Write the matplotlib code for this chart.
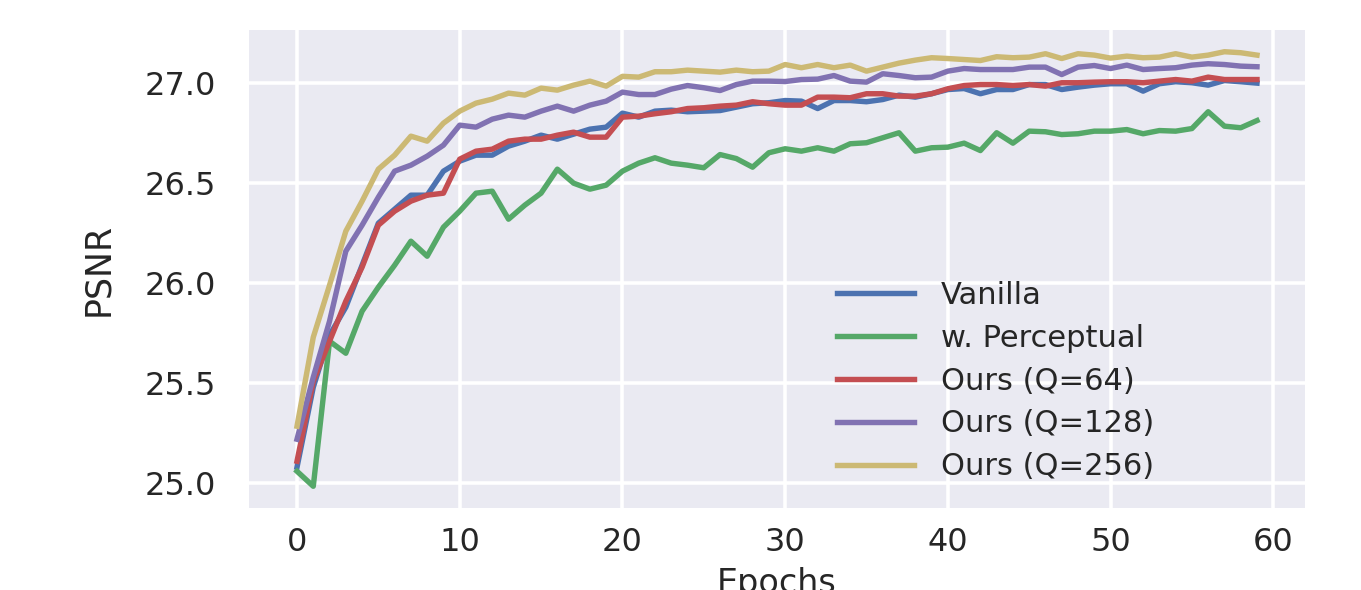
import matplotlib
matplotlib.use("Agg")
import matplotlib.pyplot as plt
import numpy as np

epochs = list(range(60))

vanilla = [25.08, 25.48, 25.74, 25.88, 26.09, 26.30, 26.37, 26.44, 26.44, 26.56,
           26.61, 26.64, 26.64, 26.685, 26.71, 26.74, 26.72, 26.745, 26.77, 26.78,
           26.85, 26.83, 26.86, 26.865, 26.857, 26.86, 26.863, 26.88, 26.897, 26.902,
           26.913, 26.91, 26.873, 26.913, 26.913, 26.907, 26.918, 26.94, 26.93, 26.947,
           26.968, 26.973, 26.947, 26.968, 26.968, 26.993, 26.993, 26.968, 26.98, 26.99,
           26.997, 26.997, 26.96, 26.997, 27.007, 27.002, 26.99, 27.013, 27.007, 27.0]

perceptual = [25.06, 24.985, 25.71, 25.65, 25.86, 25.98, 26.09, 26.21, 26.135, 26.28,
              26.36, 26.45, 26.46, 26.32, 26.39, 26.45, 26.57, 26.50, 26.47, 26.49,
              26.56, 26.60, 26.627, 26.60, 26.59, 26.577, 26.643, 26.623, 26.58, 26.652,
              26.672, 26.66, 26.677, 26.66, 26.697, 26.702, 26.727, 26.752, 26.66, 26.677,
              26.68, 26.70, 26.663, 26.752, 26.70, 26.76, 26.757, 26.743, 26.747, 26.76,
              26.76, 26.768, 26.747, 26.763, 26.76, 26.773, 26.857, 26.785, 26.777, 26.813]

ours_q64 = [25.11, 25.51, 25.71, 25.91, 26.08, 26.29, 26.36, 26.41, 26.44, 26.45,
            26.62, 26.66, 26.67, 26.71, 26.72, 26.72, 26.74, 26.755, 26.73, 26.73,
            26.83, 26.835, 26.847, 26.857, 26.873, 26.877, 26.885, 26.89, 26.907, 26.897,
            26.89, 26.89, 26.93, 26.93, 26.927, 26.947, 26.947, 26.935, 26.935, 26.947,
            26.972, 26.988, 26.993, 26.993, 26.988, 26.993, 26.985, 27.002, 27.002, 27.005,
            27.007, 27.007, 27.002, 27.01, 27.018, 27.01, 27.03, 27.018, 27.018, 27.018]

ours_q128 = [25.22, 25.53, 25.81, 26.16, 26.29, 26.43, 26.56, 26.59, 26.635, 26.69,
             26.79, 26.78, 26.82, 26.84, 26.83, 26.86, 26.885, 26.86, 26.89, 26.91,
             26.955, 26.943, 26.943, 26.97, 26.988, 26.977, 26.963, 26.993, 27.01, 27.01,
             27.008, 27.018, 27.02, 27.038, 27.01, 27.005, 27.047, 27.038, 27.027, 27.03,
             27.06, 27.073, 27.068, 27.068, 27.068, 27.08, 27.08, 27.043, 27.08, 27.088,
             27.073, 27.09, 27.068, 27.073, 27.077, 27.09, 27.097, 27.093, 27.085, 27.082]

ours_q256 = [25.285, 25.73, 25.99, 26.26, 26.41, 26.57, 26.64, 26.735, 26.71, 26.80,
             26.86, 26.90, 26.92, 26.95, 26.94, 26.975, 26.965, 26.99, 27.01, 26.985,
             27.034, 27.03, 27.057, 27.057, 27.065, 27.06, 27.055, 27.065, 27.057, 27.06,
             27.093, 27.077, 27.093, 27.077, 27.09, 27.06, 27.08, 27.10, 27.115, 27.127,
             27.123, 27.118, 27.113, 27.132, 27.127, 27.13, 27.147, 27.123, 27.147, 27.14,
             27.125, 27.135, 27.127, 27.13, 27.147, 27.13, 27.14, 27.157, 27.152, 27.14]

labels = ["Vanilla", "w. Perceptual", "Ours (Q=64)", "Ours (Q=128)", "Ours (Q=256)"]
series = [vanilla, perceptual, ours_q64, ours_q128, ours_q256]
colors = ["#4C72B0", "#55A868", "#C44E52", "#8172B2", "#CCB974"]

plt.rcParams['font.family'] = ['DejaVu Sans']

fig = plt.figure(figsize=(13.61, 5.90), dpi=100)
ax = fig.add_axes([249/1361, 82/590, (1305-249)/1361, (508-30)/590])
ax.set_facecolor("#EAEAF2")
for s in ax.spines.values():
    s.set_visible(False)
ax.grid(True, color="white", linewidth=2.6)
ax.set_axisbelow(True)

for y, lab, c in zip(series, labels, colors):
    ax.plot(epochs, y, color=c, linewidth=3.9, label=lab)

ax.set_xticks([0, 10, 20, 30, 40, 50, 60])
ax.set_yticks([25.0, 25.5, 26.0, 26.5, 27.0])
ax.set_yticklabels(["25.0", "25.5", "26.0", "26.5", "27.0"])
ax.tick_params(axis='both', length=0, labelsize=23, colors="#262626")
ax.tick_params(axis='x', pad=14)
ax.tick_params(axis='y', pad=24)
ax.set_xlabel("Epochs", fontsize=24, color="#262626", labelpad=6)
ax.set_ylabel("PSNR", fontsize=25, color="#262626", labelpad=21)

leg = ax.legend(loc='center left', bbox_to_anchor=(822/1361, 1 - 381/590),
                bbox_transform=fig.transFigure, frameon=False, fontsize=22,
                handlelength=2.5, handletextpad=0.9, labelspacing=0.455, borderpad=0)
for t in leg.get_texts():
    t.set_color("#262626")

fig.savefig("out.png", dpi=100)
